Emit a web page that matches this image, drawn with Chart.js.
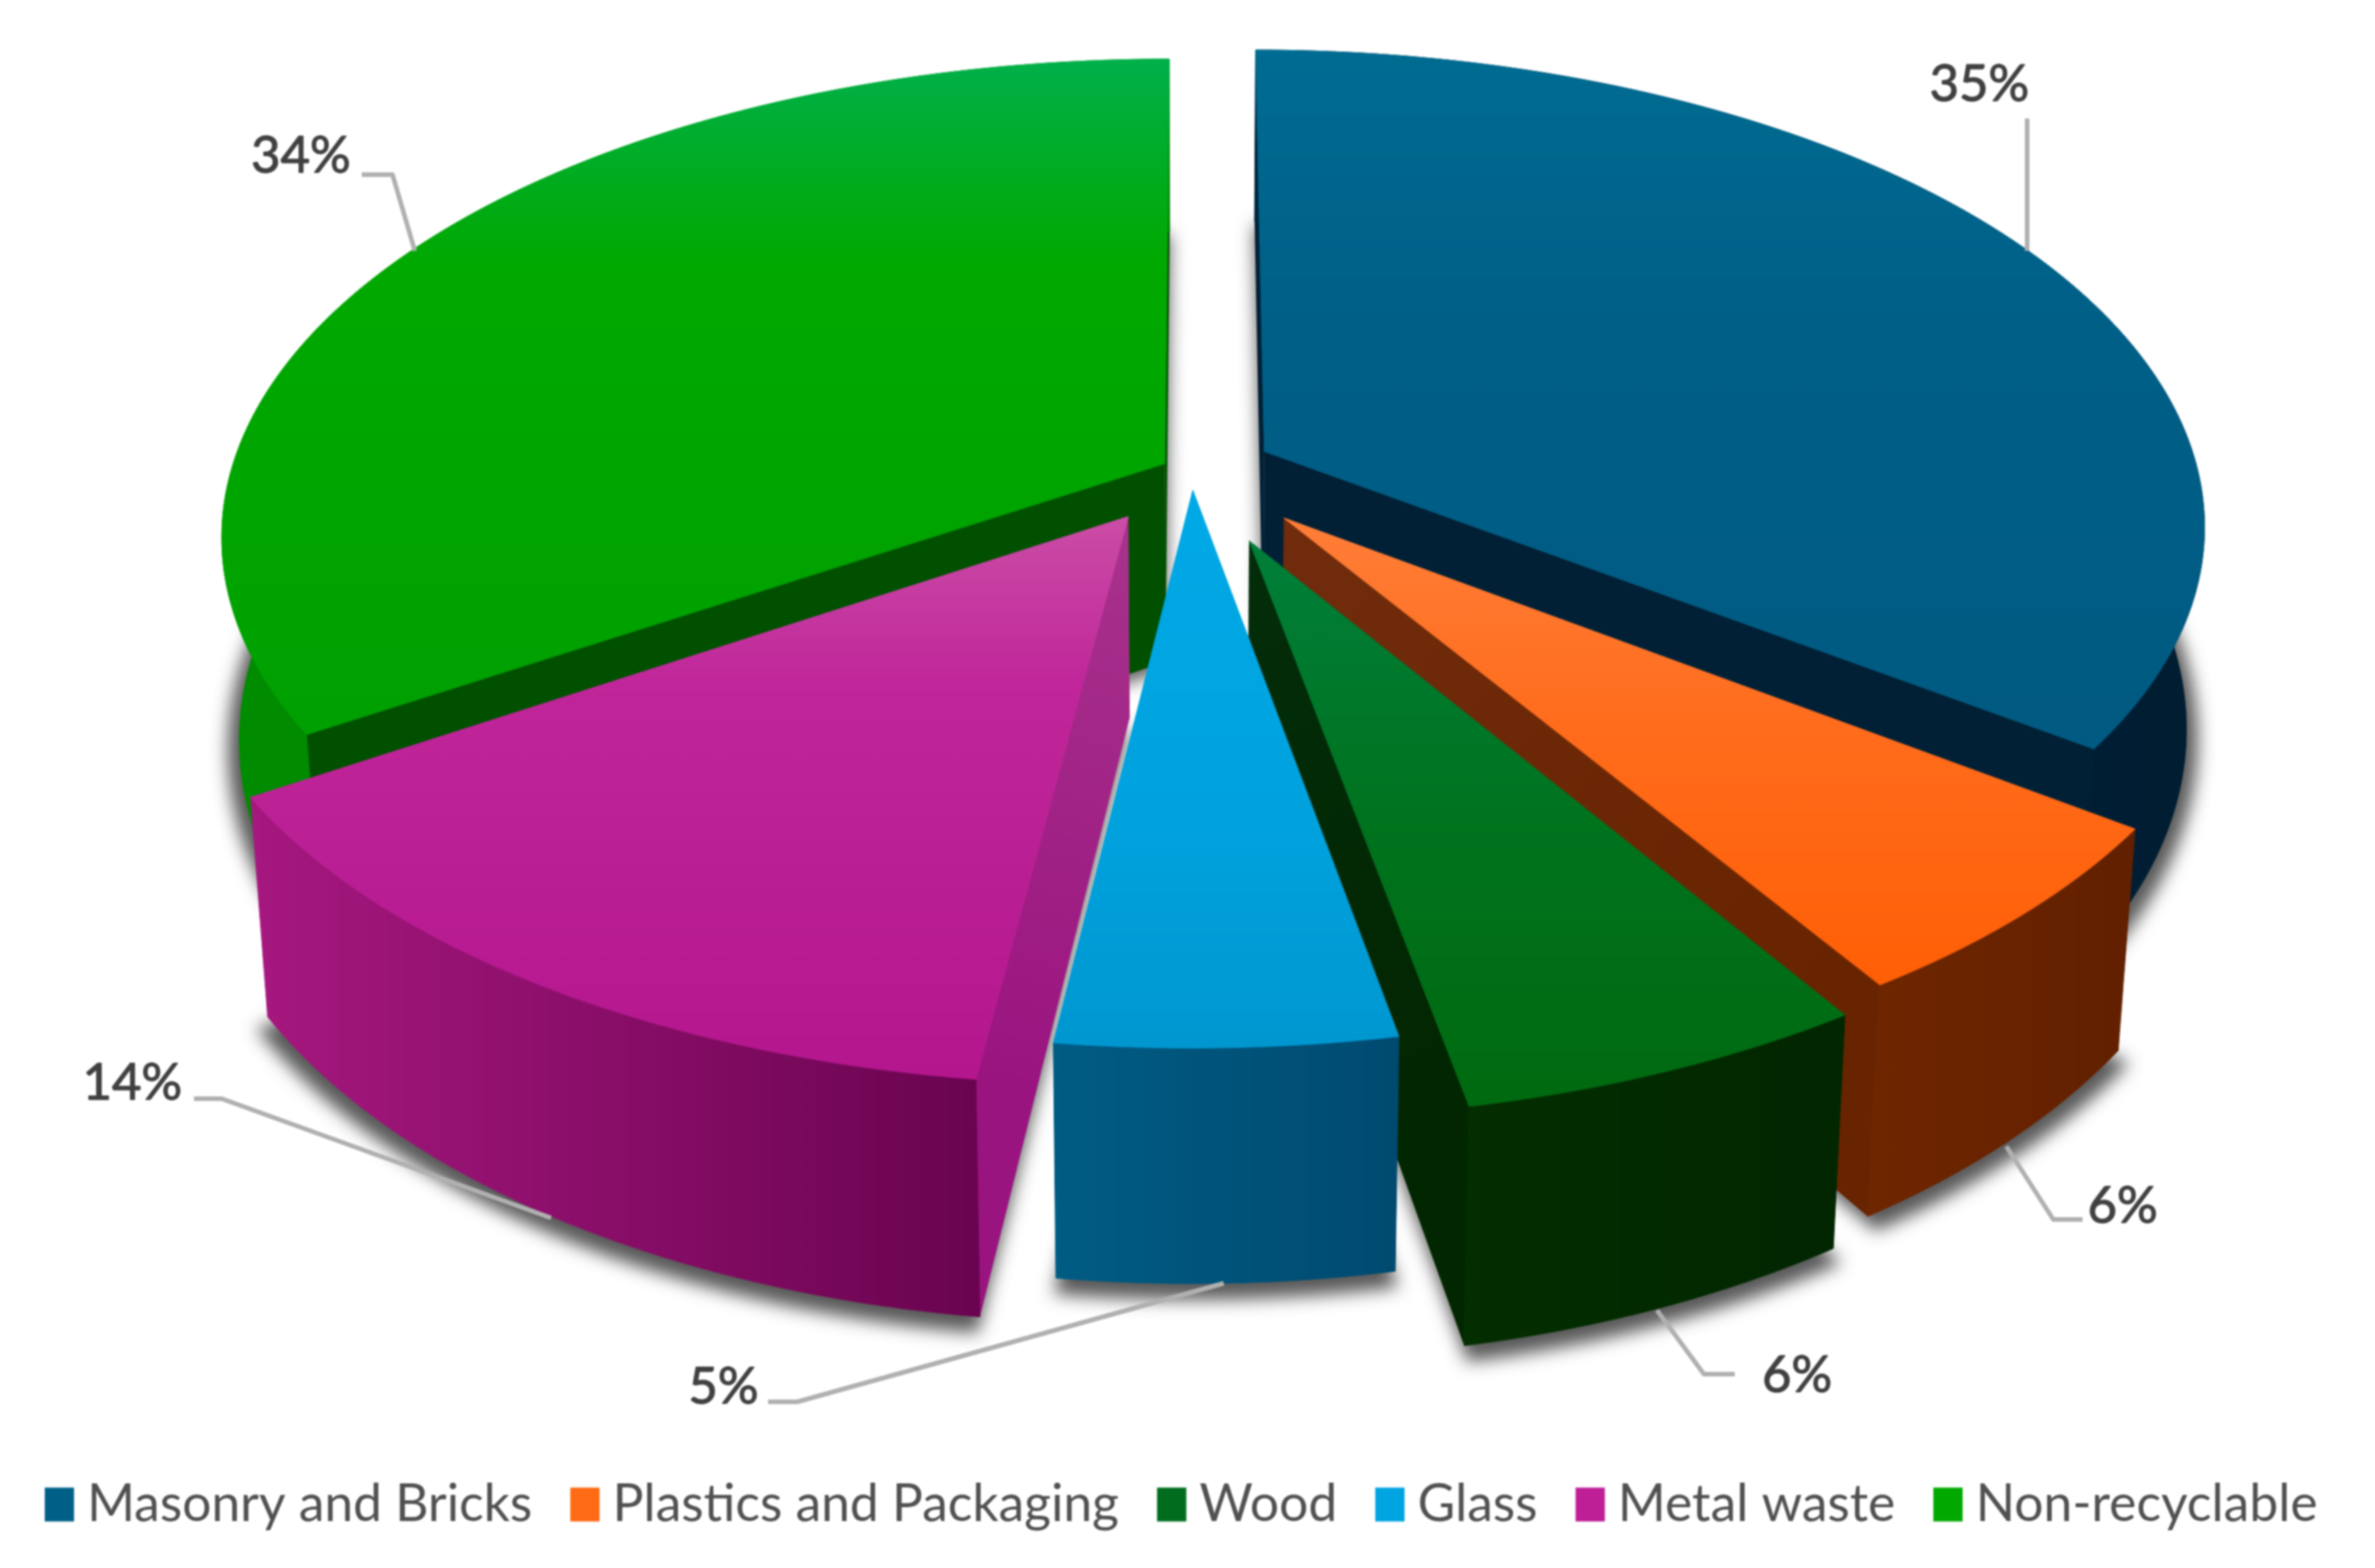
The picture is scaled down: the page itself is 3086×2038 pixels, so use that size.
<!DOCTYPE html>
<html>
<head>
<meta charset="utf-8">
<style>html,body{margin:0;padding:0;background:#fff}canvas{display:block;filter:blur(1px)}</style>
<script src="https://cdn.jsdelivr.net/npm/chart.js@4"></script>
</head>
<body>
<canvas id="c" width="3086" height="2038"></canvas>
<script>
// ---- data ----
const categories = ['Masonry and Bricks','Plastics and Packaging','Wood','Glass','Metal waste','Non-recyclable'];
const shares = [35,6,6,5,14,34];
const legendColors = ['#005F87','#FF6A14','#006C1E','#00A4E0','#BE1E96','#00A800'];

// ---- 3D styling, one entry per slice ----
const topStops = [
  [[0,'#006C92'],[.35,'#006088'],[1,'#005A82']],
  [[0,'#FF7E38'],[.45,'#FF6C1C'],[1,'#FF5F06']],
  [[0,'#007F3A'],[.5,'#00731E'],[1,'#006A10']],
  [[0,'#00A9E6'],[.6,'#00A2DE'],[1,'#0097D0']],
  [[0,'#CB4DA6'],[.3,'#C0269A'],[1,'#B4168E']],
  [[0,'#00B04A'],[.3,'#00A900'],[1,'#00A000']]
];
const sideLeft  = ['#00263E','#6E2600','#032E00','#005C84','#A6187F','#008C00'];
const sideRight = ['#001D32','#622000','#022600','#004A70','#6A0450','#008400'];
const cutBack   = ['#012035','#702C0C','#032D0A','#005C84','#A8338C','#005000'];
const cutFront  = ['#012035','#682400','#022600','#005C84','#9A1480','#005000'];
const planeShiftU = [.072,.091,.054,-.005,-.073,-.035];
const planeShiftV = [-.012,.129,.176,.071,.126,.014];
const paintOrder = [5,0,1,2,4,3];

// ---- labels ----
const labelX = [2572,2758,2335,940,172,391];
const labelY = [110,1568,1788,1803,1408,203];
const leaderPaths = [
  [[2634,154],[2634,326]],
  [[2607,1490],[2668,1585],[2706,1585]],
  [[2153,1703],[2214,1786],[2254,1786]],
  [[998,1822],[1036,1822],[1590,1668]],
  [[252,1428],[288,1428],[716,1583]],
  [[470,227],[510,227],[539,326]]
];

const CX=1556, CY=594, AX=1208, BY=602, K=.15, DEPTH=257, SHRINK=.982;
function projTop(u,v){const w=1-K*v;return [CX+AX*u/w, CY+BY*v/w];}
function projBottom(u,v){const w=1-K*v;const p=projTop(u,v);return [CX+(p[0]-CX)*SHRINK, p[1]+DEPTH/w];}

function arcPts(i,el,r,fn){
  const pts=[];const n=Math.max(6,Math.ceil((el.endAngle-el.startAngle)/0.012));
  for(let j=0;j<=n;j++){
    const a=el.startAngle+(el.endAngle-el.startAngle)*j/n;
    pts.push(fn(planeShiftU[i]+r*Math.cos(a),planeShiftV[i]+r*Math.sin(a)));
  }
  return pts;
}
function poly(ctx,pts){pts.forEach((p,k)=>k?ctx.lineTo(p[0],p[1]):ctx.moveTo(p[0],p[1]));ctx.closePath();}

const pie3d={
  id:'pie3d',
  beforeDatasetsDraw(chart){
    const ctx=chart.ctx, els=chart.getDatasetMeta(0).data;
    ctx.save();
    // soft shadow cast under the whole pie
    ctx.shadowColor='rgba(70,70,70,.9)';ctx.shadowBlur=22;ctx.shadowOffsetX=4000;ctx.shadowOffsetY=10;
    ctx.fillStyle='#000';ctx.beginPath();
    els.forEach((el,i)=>{
      const ap=projBottom(planeShiftU[i],planeShiftV[i]);
      const pts=[ap].concat(arcPts(i,el,1.012,projBottom)).map(p=>[p[0]-4000,p[1]]);
      poly(ctx,pts);
    });
    ctx.fill();
    ctx.restore();

    paintOrder.forEach(i=>{
      const el=els[i];
      const t=arcPts(i,el,1,projTop), b=arcPts(i,el,1,projBottom);
      const at=projTop(planeShiftU[i],planeShiftV[i]), ab=projBottom(planeShiftU[i],planeShiftV[i]);
      // cut faces: the one reaching lower on the page faces the viewer, so it goes last
      const quads=[[at,t[0],b[0],ab],[at,t[t.length-1],b[b.length-1],ab]].sort((p,q)=>p[1][1]-q[1][1]);
      quads.forEach(q=>{
        const cg=ctx.createLinearGradient(at[0],at[1],q[1][0],q[1][1]);
        cg.addColorStop(0,cutBack[i]);cg.addColorStop(1,cutFront[i]);
        ctx.fillStyle=cg;ctx.beginPath();poly(ctx,q);ctx.fill();
      });
      // rim wall
      const xs=t.map(p=>p[0]), minX=Math.min(...xs), maxX=Math.max(...xs);
      const g=ctx.createLinearGradient(minX,0,maxX,0);
      g.addColorStop(0,sideLeft[i]);g.addColorStop(1,sideRight[i]);
      ctx.fillStyle=g;ctx.strokeStyle=g;ctx.lineWidth=1;
      ctx.beginPath();poly(ctx,t.concat(b.slice().reverse()));ctx.fill();ctx.stroke();
      // top surface
      const pts=[at].concat(t), ys=pts.map(p=>p[1]);
      const tg=ctx.createLinearGradient(0,Math.min(...ys),0,Math.max(...ys));
      topStops[i].forEach(s=>tg.addColorStop(s[0],s[1]));
      ctx.fillStyle=tg;ctx.strokeStyle=tg;ctx.lineWidth=1;
      ctx.beginPath();poly(ctx,pts);ctx.fill();ctx.stroke();
    });
    return false;
  },
  afterDraw(chart){
    const ctx=chart.ctx;
    ctx.save();
    ctx.strokeStyle='#B0B0B0';ctx.lineWidth=6;ctx.lineJoin='round';
    leaderPaths.forEach(path=>{
      ctx.beginPath();path.forEach((p,k)=>k?ctx.lineTo(p[0],p[1]):ctx.moveTo(p[0],p[1]));ctx.stroke();
    });
    ctx.fillStyle='#404040';ctx.strokeStyle='#404040';ctx.lineWidth=1.4;ctx.font='66px Lato';
    ctx.textAlign='center';ctx.textBaseline='middle';
    shares.forEach((v,i)=>{ctx.fillText(v+'%',labelX[i],labelY[i]);ctx.strokeText(v+'%',labelX[i],labelY[i]);});
    ctx.restore();
  },
  beforeDraw(chart){
    const ctx=chart.ctx;ctx.save();ctx.fillStyle='#fff';ctx.fillRect(0,0,3086,2038);ctx.restore();
  }
};

new Chart(document.getElementById('c'),{
  type:'pie',
  data:{labels:categories,datasets:[{data:shares,backgroundColor:legendColors,borderColor:legendColors,borderWidth:33}]},
  options:{
    responsive:false,animation:false,devicePixelRatio:1,
    layout:{padding:{bottom:39}},
    plugins:{
      tooltip:{enabled:false},
      legend:{
        display:true,position:'bottom',
        labels:{boxWidth:5,boxHeight:11,padding:66,color:'#505050',font:{family:'Lato',size:67}}
      }
    }
  },
  plugins:[pie3d]
});
</script>
</body>
</html>
